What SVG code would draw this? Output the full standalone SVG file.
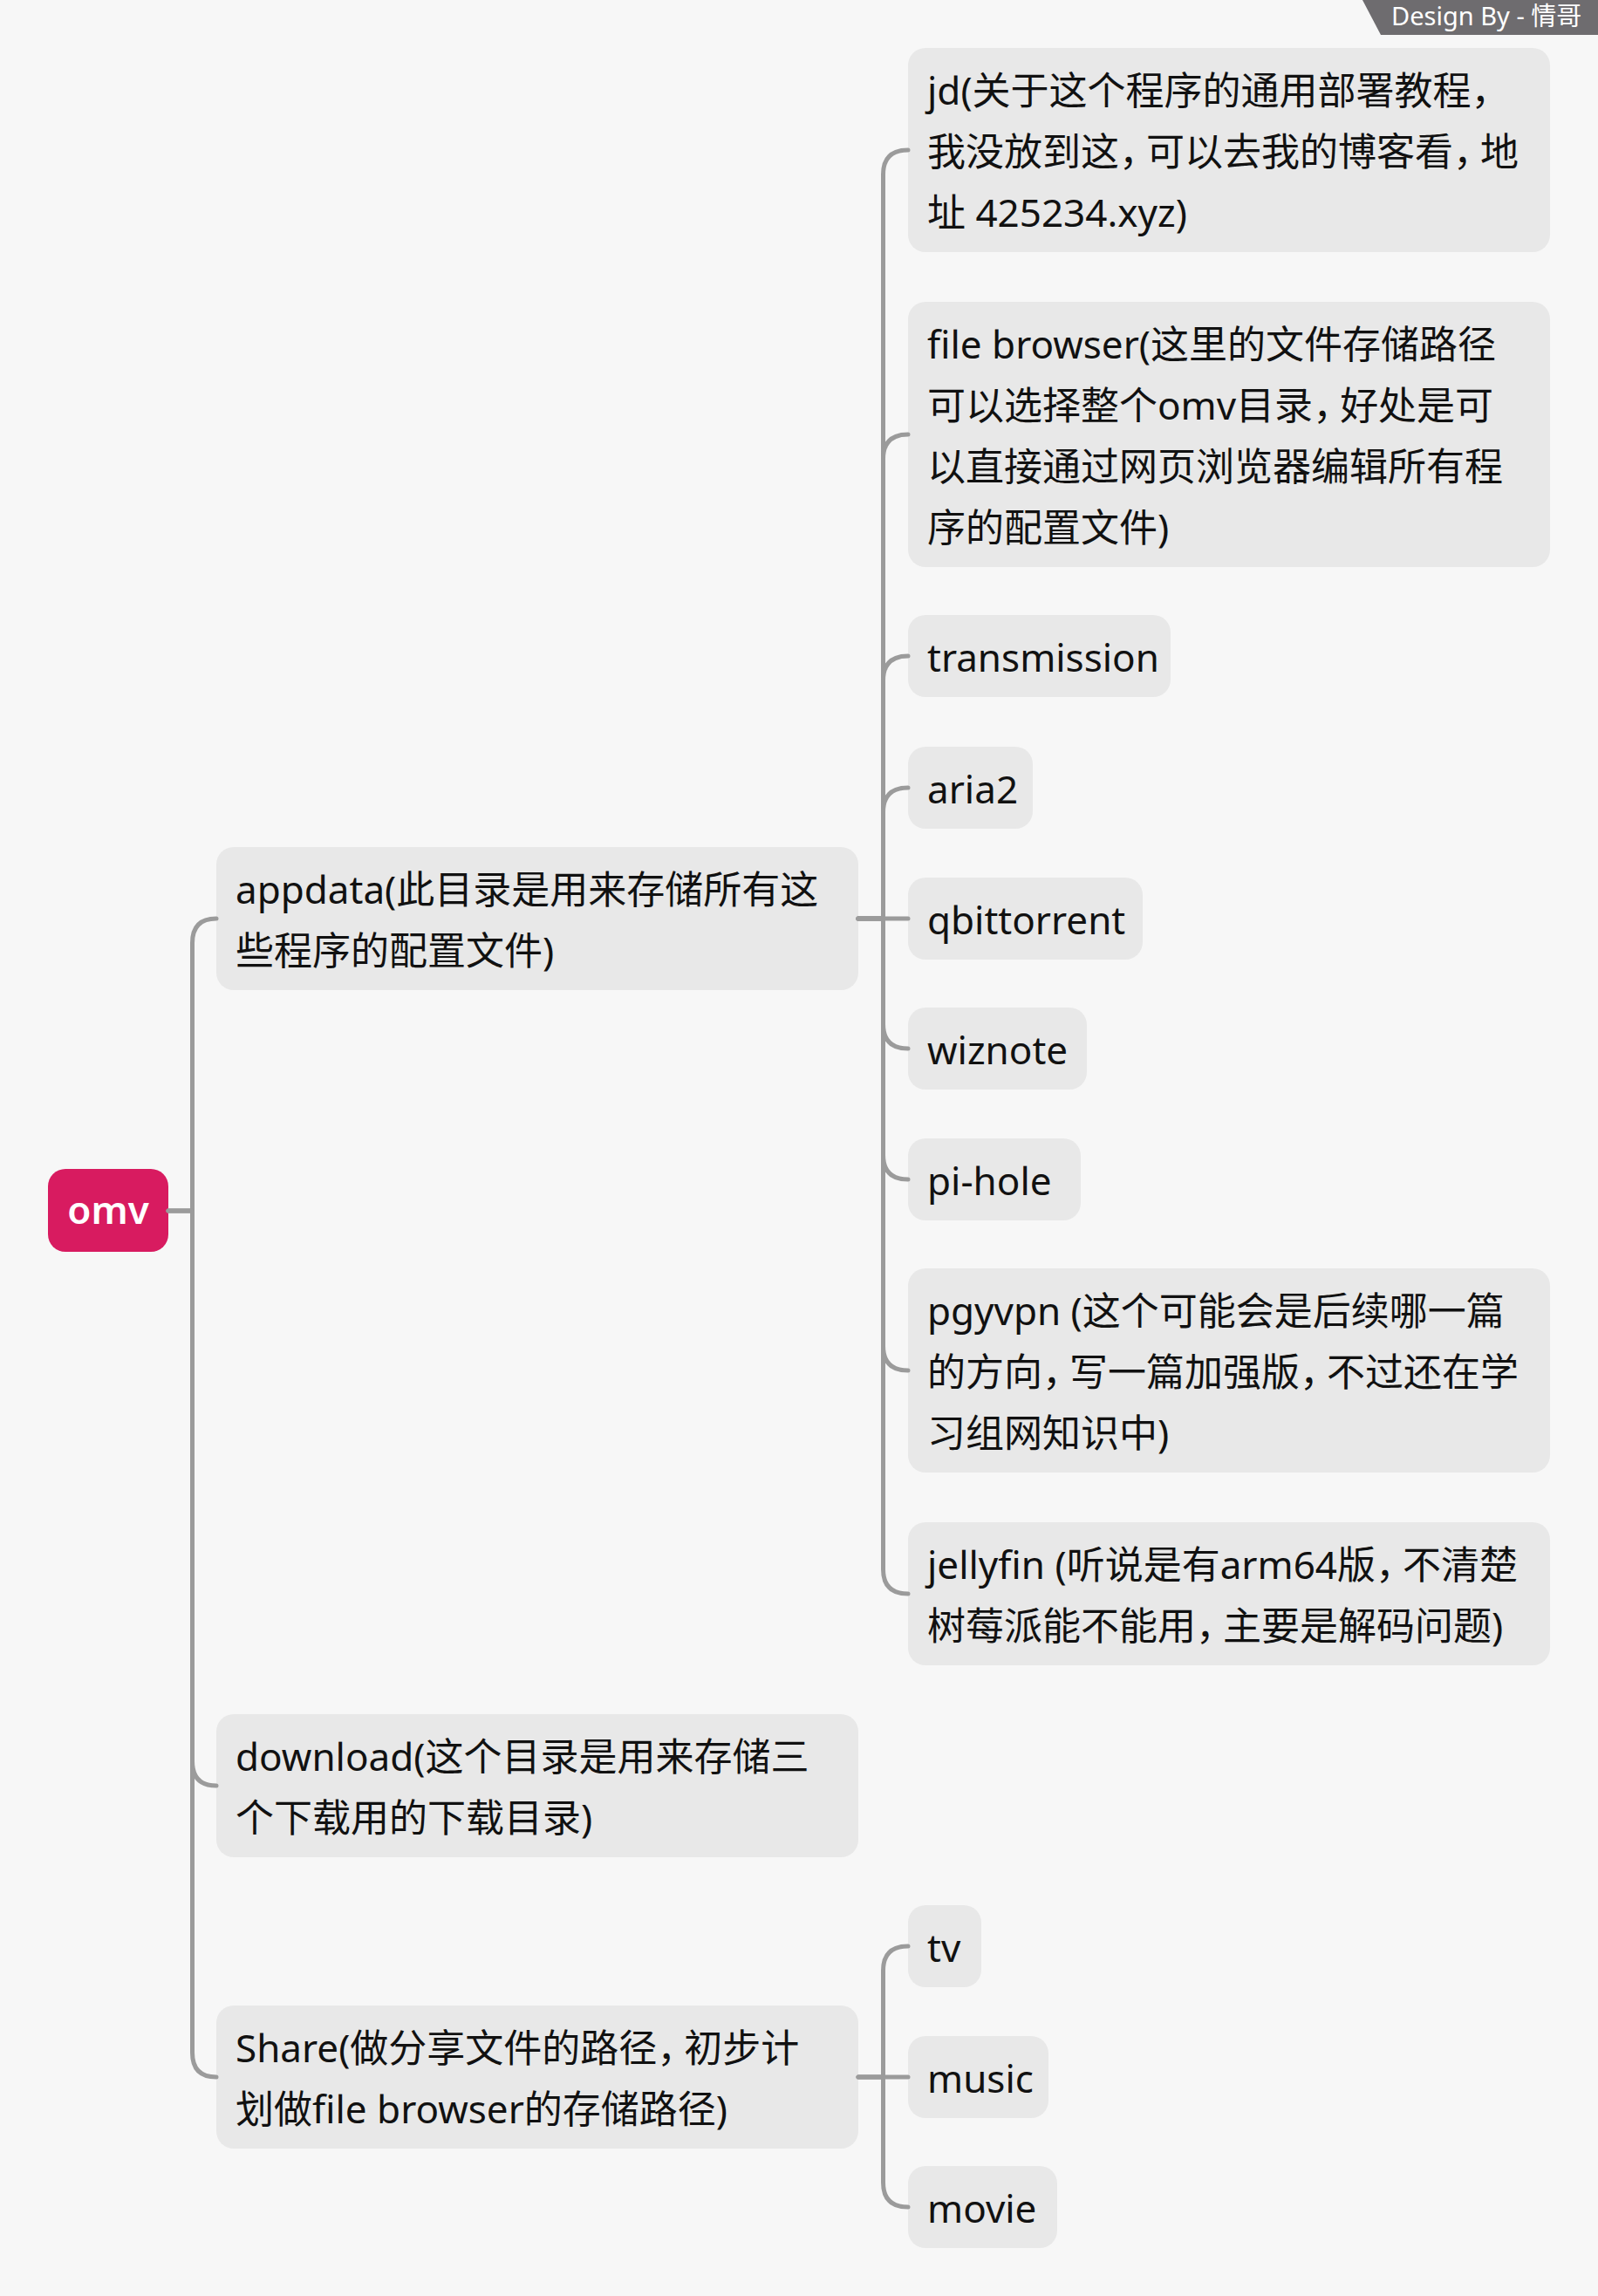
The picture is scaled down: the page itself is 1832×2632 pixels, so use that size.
<svg xmlns="http://www.w3.org/2000/svg" width="1832" height="2632" viewBox="0 0 1832 2632">
<style>
.bg{fill:#f7f7f7}
.node rect{fill:#e8e8e8}
.node text{font-family:"Noto Sans","Noto Sans CJK SC",sans-serif;font-size:44px;fill:#111111}
.node .c{letter-spacing:-13px}
.root rect{fill:#d81b60}
.root text{font-family:"Noto Sans","Noto Sans CJK SC",sans-serif;font-size:44px;font-weight:600;fill:#ffffff}
.conn path{fill:none;stroke:#9b9b9b;stroke-width:5;stroke-linecap:round;stroke-linejoin:round}
.banner polygon{fill:#6e6c6f}
.banner text{font-family:"Noto Sans","Noto Sans CJK SC",sans-serif;font-size:29px;fill:#ffffff}
</style>
<rect class="bg" x="0" y="0" width="1832" height="2632"/>

<g class="banner" id="banner">
<polygon points="1562,0 1832,0 1832,40 1583,40"/>
<text x="1595" y="29">Design By - 情哥</text>
</g>

<g class="root" id="omv">
<rect x="55" y="1340" width="138" height="95" rx="20"/>
<text x="124" y="1403" text-anchor="middle">omv</text>
</g>

<g class="node" id="appdata">
<rect x="248" y="971" width="736" height="164" rx="20"/>
<text x="270"><tspan x="270" y="1036">appdata(此目录是用来存储所有这</tspan><tspan x="270" y="1106">些程序的配置文件)</tspan></text>
</g>

<g class="node" id="download">
<rect x="248" y="1965" width="736" height="164" rx="20"/>
<text x="270"><tspan x="270" y="2030">download(这个目录是用来存储三</tspan><tspan x="270" y="2100">个下载用的下载目录)</tspan></text>
</g>

<g class="node" id="share">
<rect x="248" y="2299" width="736" height="164" rx="20"/>
<text x="270"><tspan x="270" y="2364">Share(做分享文件的路径<tspan class="c">，</tspan>初步计</tspan><tspan x="270" y="2434">划做file browser的存储路径)</tspan></text>
</g>

<g class="node" id="jd">
<rect x="1041" y="55" width="736" height="234" rx="20"/>
<text x="1063"><tspan x="1063" y="120">jd(关于这个程序的通用部署教程，</tspan><tspan x="1063" y="190">我没放到这<tspan class="c">，</tspan>可以去我的博客看<tspan class="c">，</tspan>地</tspan><tspan x="1063" y="260">址 425234.xyz)</tspan></text>
</g>

<g class="node" id="filebrowser">
<rect x="1041" y="346" width="736" height="304" rx="20"/>
<text x="1063"><tspan x="1063" y="411">file browser(这里的文件存储路径</tspan><tspan x="1063" y="481">可以选择整个omv目录<tspan class="c">，</tspan>好处是可</tspan><tspan x="1063" y="551">以直接通过网页浏览器编辑所有程</tspan><tspan x="1063" y="621">序的配置文件)</tspan></text>
</g>

<g class="node" id="transmission">
<rect x="1041" y="705" width="301" height="94" rx="20"/>
<text x="1063" y="770">transmission</text>
</g>

<g class="node" id="aria2">
<rect x="1041" y="856" width="143" height="94" rx="20"/>
<text x="1063" y="921">aria2</text>
</g>

<g class="node" id="qbittorrent">
<rect x="1041" y="1006" width="269" height="94" rx="20"/>
<text x="1063" y="1071">qbittorrent</text>
</g>

<g class="node" id="wiznote">
<rect x="1041" y="1155" width="205" height="94" rx="20"/>
<text x="1063" y="1220">wiznote</text>
</g>

<g class="node" id="pihole">
<rect x="1041" y="1305" width="198" height="94" rx="20"/>
<text x="1063" y="1370">pi-hole</text>
</g>

<g class="node" id="pgyvpn">
<rect x="1041" y="1454" width="736" height="234" rx="20"/>
<text x="1063"><tspan x="1063" y="1519">pgyvpn (这个可能会是后续哪一篇</tspan><tspan x="1063" y="1589">的方向<tspan class="c">，</tspan>写一篇加强版<tspan class="c">，</tspan>不过还在学</tspan><tspan x="1063" y="1659">习组网知识中)</tspan></text>
</g>

<g class="node" id="jellyfin">
<rect x="1041" y="1745" width="736" height="164" rx="20"/>
<text x="1063"><tspan x="1063" y="1810">jellyfin (听说是有arm64版<tspan class="c">，</tspan>不清楚</tspan><tspan x="1063" y="1880">树莓派能不能用<tspan class="c">，</tspan>主要是解码问题)</tspan></text>
</g>

<g class="node" id="tv">
<rect x="1041" y="2184" width="84" height="94" rx="20"/>
<text x="1063" y="2249">tv</text>
</g>

<g class="node" id="music">
<rect x="1041" y="2334" width="161" height="94" rx="20"/>
<text x="1063" y="2399">music</text>
</g>

<g class="node" id="movie">
<rect x="1041" y="2483" width="171" height="94" rx="20"/>
<text x="1063" y="2548">movie</text>
</g>

<g class="conn" id="connectors">
<path d="M193 1388 H220.5 V1081 Q220.5 1053 248 1053"/>
<path d="M193 1388 H220.5 V2019 Q220.5 2047 248 2047"/>
<path d="M193 1388 H220.5 V2353 Q220.5 2381 248 2381"/>
<path d="M984 1053 H1012.5 V200 Q1012.5 172 1041 172"/>
<path d="M984 1053 H1012.5 V526 Q1012.5 498 1041 498"/>
<path d="M984 1053 H1012.5 V780 Q1012.5 752 1041 752"/>
<path d="M984 1053 H1012.5 V931 Q1012.5 903 1041 903"/>
<path d="M984 1053 H1041"/>
<path d="M984 1053 H1012.5 V1174 Q1012.5 1202 1041 1202"/>
<path d="M984 1053 H1012.5 V1324 Q1012.5 1352 1041 1352"/>
<path d="M984 1053 H1012.5 V1543 Q1012.5 1571 1041 1571"/>
<path d="M984 1053 H1012.5 V1799 Q1012.5 1827 1041 1827"/>
<path d="M984 2381 H1012.5 V2259 Q1012.5 2231 1041 2231"/>
<path d="M984 2381 H1041"/>
<path d="M984 2381 H1012.5 V2502 Q1012.5 2530 1041 2530"/>
</g>
</svg>
